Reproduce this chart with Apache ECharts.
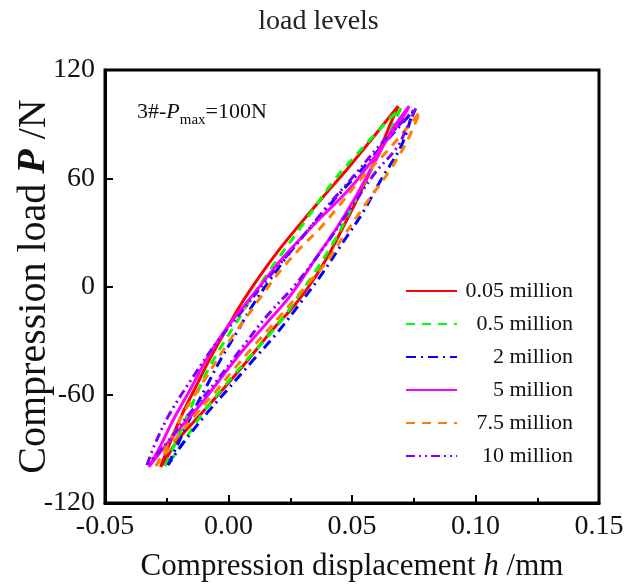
<!DOCTYPE html>
<html>
<head>
<meta charset="utf-8">
<script src="https://cdn.jsdelivr.net/npm/echarts@6/dist/echarts.min.js"></script>
<style>html,body{margin:0;padding:0;background:#fff}#c{width:637px;height:587px}</style>
</head>
<body>
<div id="c"></div>
<script>
// ---- data ----
const seriesNames = ['0.05 million', '0.5 million', '2 million', '5 million', '7.5 million', '10 million'];
const xTicks = [-0.05, 0.00, 0.05, 0.10, 0.15];
const yTicks = [-120, -60, 0, 60, 120];

// each loop: upper branch from bottom tip to top tip, then lower branch back to bottom tip
const m005_x = [-0.0275, -0.0232, -0.0185, -0.0130, -0.0075, -0.0014, 0.0050, 0.0123, 0.0203, 0.0292, 0.0385, 0.0480, 0.0570, 0.0640, 0.0687,
                0.0655, 0.0625, 0.0578, 0.0527, 0.0472, 0.0415, 0.0350, 0.0270, 0.0172, 0.0083, -0.0010, -0.0107, -0.0205, -0.0250, -0.0275];
const m005_y = [-100, -85, -70, -55, -40, -25, -10, 5, 20, 35, 50, 65, 80, 92, 100,
                90, 80, 65, 50, 35, 20, 5, -10, -25, -40, -55, -70, -85, -95, -100];

const m05_x = [-0.0257, -0.0210, -0.0148, -0.0090, -0.0038, 0.0030, 0.0087, 0.0168, 0.0290, 0.0424, 0.0553, 0.0654, 0.0698,
               0.0634, 0.0573, 0.0504, 0.0431, 0.0342, 0.0290, 0.0205, 0.0074, -0.0007, -0.0095, -0.0169, -0.0224, -0.0257];
const m05_y = [-99.5, -85.1, -65.7, -48.1, -35.2, -20.4, -7.5, 9.1, 32.3, 58.1, 78.4, 93.2, 98.9,
               80.1, 63.6, 45.2, 25.8, 6.4, -3.8, -20.4, -40.8, -53.7, -68.5, -83.3, -94.4, -99.5];

const m2_x = [-0.0245, -0.0197, -0.0145, -0.0088, -0.0030, 0.0035, 0.0100, 0.0175, 0.0255, 0.0345, 0.0440, 0.0540, 0.0635, 0.0700, 0.0746,
              0.0701, 0.0613, 0.0546, 0.0465, 0.0370, 0.0290, 0.0195, 0.0100, 0.0006, -0.0088, -0.0190, -0.0245];
const m2_y = [-99, -85, -70, -55, -40, -25, -10, 5, 20, 35, 50, 65, 80, 90, 97,
              78.4, 58.1, 41.5, 24.8, 5.3, -9.3, -26.0, -40.8, -55.6, -70.3, -88.0, -99];

const m5_x = [-0.0322, -0.0277, -0.0224, -0.0156, -0.0075, -0.0007, 0.0050, 0.0114, 0.0181, 0.0230, 0.0357, 0.0492, 0.0627, 0.0712, 0.0731,
              0.0667, 0.0600, 0.0519, 0.0438, 0.0357, 0.0249, 0.0155, 0.0033, -0.0115, -0.0224, -0.0322];
const m5_y = [-100.0, -88.8, -74.0, -57.4, -37.0, -23.0, -13.0, -2.0, 9.5, 17.5, 35.9, 54.4, 78.4, 95.0, 100.0,
              87.8, 71.2, 50.7, 32.4, 16.3, -5.3, -20.2, -39.6, -65.7, -82.9, -100.0];

const m75_x = [-0.0294, -0.0237, -0.0183, -0.0115, 0.0006, 0.0074, 0.0141, 0.0209, 0.0290, 0.0370, 0.0445, 0.0532, 0.0654, 0.0775,
               0.0722, 0.0654, 0.0553, 0.0451, 0.0398, 0.0317, 0.0209, 0.0100, 0.0019, -0.0048, -0.0129, -0.0217, -0.0294];
const m75_y = [-99.5, -85.1, -70.3, -55.6, -29.7, -16.8, -3.8, 8.6, 21.2, 32.2, 44.3, 59.0, 76.8, 96.7,
               80.3, 64.6, 45.2, 24.8, 13.7, 0.8, -16.4, -33.4, -46.3, -57.6, -70.3, -85.1, -99.5];

const m10_x = [-0.0330, -0.0300, -0.0237, -0.0143, -0.0048, 0.0033, 0.0155, 0.0290, 0.0398, 0.0500, 0.0613, 0.0759,
               0.0722, 0.0681, 0.0593, 0.0499, 0.0384, 0.0276, 0.0155, 0.0047, -0.0055, -0.0156, -0.0257, -0.0330];
const m10_y = [-99.0, -88.0, -70.3, -50.0, -31.0, -17.5, 3.6, 25.8, 44.2, 60.1, 78.4, 98.9,
               87.8, 76.8, 62.9, 44.1, 21.3, 1.9, -16.4, -35.2, -53.5, -70.1, -87.9, -99.0];

const loopsX = [m005_x, m05_x, m2_x, m5_x, m75_x, m10_x];
const loopsY = [m005_y, m05_y, m2_y, m5_y, m75_y, m10_y];

// ---- styles ----
const colors = ['#ff0000', '#00ff00', '#0000ff', '#ff00ff', '#ff8000', '#8000ff'];
const dashes = ['solid', [9, 7], [10, 5, 2, 5], 'solid', [9, 7], [9, 4, 2, 4, 2, 4]];
const serif = '"Liberation Serif", "Times New Roman", serif';

const series = seriesNames.map((name, i) => ({
  name: name,
  type: 'line',
  data: loopsX[i].map((x, k) => [x, loopsY[i][k]]),
  showSymbol: false,
  symbol: 'none',
  smooth: 0.35,
  lineStyle: { color: colors[i], width: 3, type: dashes[i] },
  itemStyle: { color: colors[i] },
  z: 2 + i
}));

const chart = echarts.init(document.getElementById('c'), null, { renderer: 'canvas' });
chart.setOption({
  animation: false,
  backgroundColor: '#fff',
  title: {
    text: 'load levels',
    left: 'center',
    top: 3,
    textStyle: { fontFamily: serif, fontWeight: 'normal', fontSize: 28, color: '#222' }
  },
  grid: { left: 105, right: 38, top: 70, bottom: 84, outerBoundsMode: 'none', containLabel: false, show: true, borderColor: '#000', borderWidth: 3, backgroundColor: 'transparent' },
  legend: {
    orient: 'vertical',
    left: 405,
    top: 280,
    padding: 0,
    itemWidth: 51,
    itemHeight: 12,
    itemGap: 11,
    data: seriesNames,
    itemStyle: { opacity: 0 },
    formatter: n => '{t|' + n + '}',
    textStyle: {
      fontFamily: serif,
      fontSize: 22,
      color: '#111',
      rich: { t: { fontFamily: serif, fontSize: 22, width: 111, align: 'right', lineHeight: 22 } }
    }
  },
  xAxis: {
    type: 'value',
    min: xTicks[0],
    max: xTicks[xTicks.length - 1],
    interval: 0.05,
    name: '{n|Compression displacement }{i|h}{n| /mm}',
    nameLocation: 'middle',
    nameGap: 48,
    nameTextStyle: {
      rich: {
        n: { fontFamily: serif, fontSize: 31, color: '#111' },
        i: { fontFamily: serif, fontSize: 31, fontStyle: 'italic', color: '#111' }
      }
    },
    axisLine: { show: true, onZero: false, lineStyle: { color: '#000', width: 3 } },
    axisTick: { show: true, inside: true, length: 8, lineStyle: { color: '#000', width: 2 } },
    minorTick: { show: true, splitNumber: 2, length: 5, lineStyle: { color: '#000', width: 2 } },
    splitLine: { show: false },
    axisLabel: { fontFamily: serif, fontSize: 28, color: '#111', margin: 10, formatter: v => v.toFixed(2) }
  },
  yAxis: {
    type: 'value',
    min: yTicks[0],
    max: yTicks[yTicks.length - 1],
    interval: 60,
    name: '{n|Compression load }{i|P}{n| /N}',
    nameLocation: 'middle',
    nameGap: 51,
    nameMoveOverlap: false,
    nameRotate: 90,
    nameTextStyle: {
      rich: {
        n: { fontFamily: serif, fontSize: 40, color: '#111' },
        i: { fontFamily: serif, fontSize: 40, fontStyle: 'italic', fontWeight: 'bold', color: '#111' }
      }
    },
    axisLine: { show: true, onZero: false, lineStyle: { color: '#000', width: 3 } },
    axisTick: { show: true, inside: true, length: 8, lineStyle: { color: '#000', width: 2 } },
    splitLine: { show: false },
    axisLabel: { fontFamily: serif, fontSize: 28, color: '#111', margin: 10 }
  },
  graphic: [{
    type: 'text',
    left: 137,
    top: 101,
    z: 100,
    style: {
      text: '{n|3#-}{i|P}{s|max}{n|=100N}',
      rich: {
        n: { fontFamily: serif, fontSize: 22, fill: '#111' },
        i: { fontFamily: serif, fontSize: 22, fontStyle: 'italic', fill: '#111' },
        s: { fontFamily: serif, fontSize: 15, fill: '#111', padding: [16, 0, 0, 0] }
      }
    }
  }],
  series: series
});
</script>
</body>
</html>
